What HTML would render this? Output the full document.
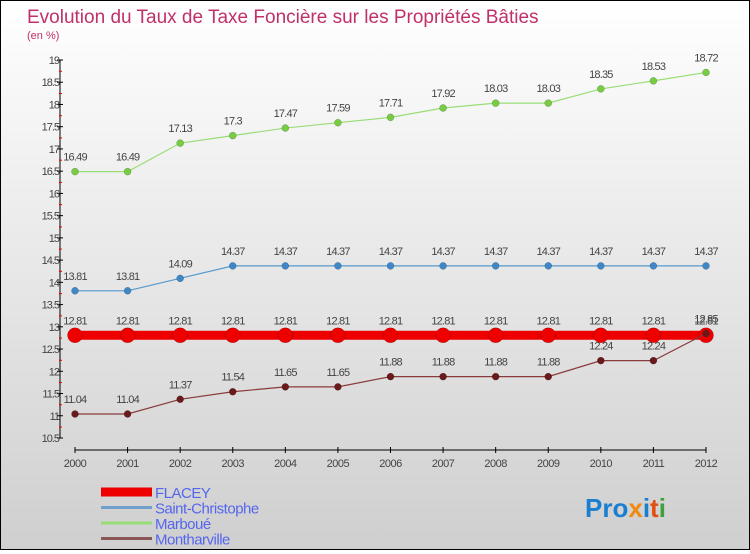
<!DOCTYPE html>
<html><head><meta charset="utf-8"><style>
html,body{margin:0;padding:0}
body{width:750px;height:550px;overflow:hidden;font-family:"Liberation Sans",sans-serif}
#wrap{position:relative;width:748px;height:548px;border:1px solid #000;background:linear-gradient(#ffffff,#cfcfcf)}
</style></head><body>
<div id="wrap">
<svg id="chart" width="748" height="548" font-family="Liberation Sans, sans-serif">
<text x="26" y="22" font-size="19" fill="#c0306a">Evolution du Taux de Taxe Foncière sur les Propriétés Bâties</text>
<text x="26" y="38" font-size="11" fill="#c0306a">(en %)</text>
<g id="axes"></g>
<g id="series"></g>
<g id="legend"></g>
<text x="584" y="516" font-size="26" font-weight="bold"><tspan fill="#1a7fd0">Pro</tspan><tspan fill="#f08a10">x</tspan><tspan fill="#1a7fd0">i</tspan><tspan fill="#e05010">t</tspan><tspan fill="#40a040">i</tspan></text>
</svg>
</div>
<script>
const years=[2000,2001,2002,2003,2004,2005,2006,2007,2008,2009,2010,2011,2012];
const yTicks=[10.5,11,11.5,12,12.5,13,13.5,14,14.5,15,15.5,16,16.5,17,17.5,18,18.5,19];
const flacey=[12.81,12.81,12.81,12.81,12.81,12.81,12.81,12.81,12.81,12.81,12.81,12.81,12.81];
const saintChristophe=[13.81,13.81,14.09,14.37,14.37,14.37,14.37,14.37,14.37,14.37,14.37,14.37,14.37];
const marboue=[16.49,16.49,17.13,17.3,17.47,17.59,17.71,17.92,18.03,18.03,18.35,18.53,18.72];
const montharville=[11.04,11.04,11.37,11.54,11.65,11.65,11.88,11.88,11.88,11.88,12.24,12.24,12.85];
const NS="http://www.w3.org/2000/svg";
const X=i=>74+i*(631/12);
const Y=v=>59+(19-v)*44.47;
function mk(tag,attrs,parent,txt){const e=document.createElementNS(NS,tag);for(const k in attrs)e.setAttribute(k,attrs[k]);if(txt!==undefined)e.textContent=txt;parent.appendChild(e);return e;}
const axes=document.getElementById('axes');
let a=mk('line',{x1:59,y1:Y(19),x2:59,y2:Y(10.5),stroke:'#000'},axes);


yTicks.forEach((v,i)=>{
 mk('line',{x1:56,y1:Y(v),x2:62,y2:Y(v),stroke:'#000'},axes);
 if(i<yTicks.length-1) mk('line',{x1:58,y1:Y(v)-11,x2:61,y2:Y(v)-11,stroke:'#e00'},axes);
 const t=mk('text',{x:58,y:Y(v)+4,'font-size':11,fill:'#444','text-anchor':'end','letter-spacing':'-1'},axes,String(v));
 
 
});
a=mk('line',{x1:X(0),y1:449,x2:X(12),y2:449,stroke:'#000'},axes);


years.forEach((y,i)=>{
 mk('line',{x1:X(i),y1:446,x2:X(i),y2:452,stroke:'#000'},axes);
 const t=mk('text',{x:X(i),y:466,'font-size':11,fill:'#444','text-anchor':'middle','letter-spacing':'-0.5'},axes,String(y));
 
 
});
const ser=document.getElementById('series');
function draw(data,color,dot,w,r,name){
 const g=mk('g',{},ser);
 
 
 const p=mk('polyline',{points:data.map((v,i)=>X(i)+','+Y(v)).join(' '),fill:'none',stroke:color,'stroke-width':w},g);
 
 
 data.forEach((v,i)=>{
  const c=mk('circle',{cx:X(i),cy:Y(v),r:r,fill:dot,stroke:'rgba(0,0,0,0.3)','stroke-width':0.5},g);
  
  
  const t=mk('text',{x:X(i),y:Y(v)-11,'font-size':11,fill:'#444','text-anchor':'middle','letter-spacing':'-0.8'},g,String(v));
  
  
 });
}
draw(marboue,'#99dd77','#77cc44',1.2,3.5,'marboue');
draw(saintChristophe,'#5599cc','#3f88c8',1.2,3.5,'saint-christophe');
draw(flacey,'#ee0000','#ee0000',9,7.5,'flacey');
draw(montharville,'#8a3a3a','#6a1a1a',1.2,3.5,'montharville');
const leg=document.getElementById('legend');
const items=[['FLACEY','#ee0000',9],['Saint-Christophe','#6fa0cc',3],['Marboué','#99dd77',3],['Montharville','#8a5555',3]];
items.forEach((it,i)=>{
 const y=491+i*15.5;
 const g=mk('g',{},leg);
 
 
 mk('line',{x1:100,y1:y,x2:151,y2:y,stroke:it[1],'stroke-width':it[2]},g);
 mk('text',{x:154,y:y+6,'font-size':15,fill:'#5566ee','letter-spacing':'-0.5'},g,it[0]);
});
</script>
</body></html>
